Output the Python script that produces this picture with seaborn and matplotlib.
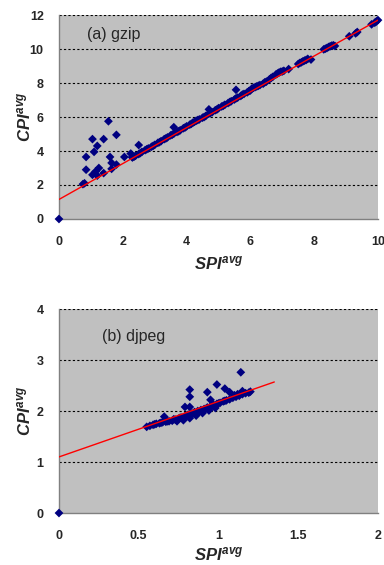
import matplotlib.pyplot as plt
import numpy as np
import pandas as pd
import seaborn as sns

# (a) gzip: SPI_avg vs CPI_avg
gzip_spi = [0.0, 0.75, 0.8, 0.85, 0.85, 1.05, 1.1, 1.05, 1.2, 1.15, 1.25, 1.2, 1.4, 1.4,
            1.55, 1.6, 1.65, 1.65, 1.8, 1.8, 2.05, 2.25, 2.3, 2.5, 3.6, 4.7, 5.55,
            2.3, 2.4, 2.5, 2.6, 2.7, 2.8, 2.9, 3.0, 3.1, 3.2, 3.3, 3.4, 3.5, 3.6, 3.7,
            3.8, 3.9, 4.0, 4.1, 4.2, 4.3, 4.4, 4.5, 4.6, 4.7, 4.8, 4.9, 5.0, 5.1, 5.2,
            5.3, 5.4, 5.5, 5.6, 5.7, 5.8, 5.9, 6.0, 6.1, 6.2, 6.3, 6.4, 6.5, 6.6, 6.7,
            6.8, 6.9, 7.0, 7.2, 7.5, 7.6, 7.7, 7.8, 7.9, 8.3, 8.4, 8.5, 8.6, 8.65,
            2.35, 2.55, 2.75, 2.95, 3.15, 3.35, 3.55, 3.75, 3.95, 4.15, 4.25, 4.35,
            4.55, 4.75, 4.95, 5.15, 5.35, 5.55, 5.75, 5.95, 6.05, 6.15, 6.25, 6.45,
            6.65, 6.85, 6.95, 7.05, 7.55, 7.65, 7.75, 8.35, 8.45, 8.55,
            9.1, 9.3, 9.35, 9.8, 9.9, 9.95, 10.0]
gzip_cpi = [0.0, 2.05, 2.1, 3.65, 2.9, 4.7, 3.95, 2.6, 4.3, 2.8, 3.0, 2.55, 4.7, 2.7,
            5.75, 3.65, 3.3, 2.95, 4.95, 3.2, 3.65, 3.85, 3.65, 4.35, 5.4, 6.45, 7.6,
            3.62, 3.72, 3.82, 3.95, 4.05, 4.15, 4.25, 4.36, 4.48, 4.58, 4.7, 4.8, 4.92,
            5.02, 5.12, 5.22, 5.34, 5.45, 5.55, 5.67, 5.78, 5.86, 5.96, 6.06, 6.2, 6.28,
            6.4, 6.52, 6.62, 6.72, 6.82, 6.93, 7.03, 7.14, 7.24, 7.36, 7.45, 7.56, 7.72,
            7.8, 7.88, 7.96, 8.08, 8.22, 8.36, 8.5, 8.62, 8.68, 8.82, 9.12, 9.22, 9.32,
            9.42, 9.38, 9.98, 10.06, 10.16, 10.22, 10.18,
            3.66, 3.88, 4.1, 4.3, 4.52, 4.74, 4.96, 5.16, 5.38, 5.6, 5.72, 5.82,
            6.0, 6.24, 6.44, 6.66, 6.88, 7.1, 7.32, 7.52, 7.68, 7.76, 7.84, 8.04,
            8.3, 8.56, 8.66, 8.72, 9.18, 9.28, 9.36, 10.02, 10.12, 10.2,
            10.75, 10.92, 11.0, 11.45, 11.55, 11.62, 11.7]
gzip_fit_x = [0.0, 10.0]
gzip_fit_y = [1.15, 11.7]

# (b) djpeg
djpeg_spi = [0.0, 0.55, 0.57, 0.59, 0.61, 0.63, 0.65, 0.67, 0.69, 0.71, 0.73, 0.75,
             0.77, 0.79, 0.81, 0.83, 0.85, 0.87, 0.89, 0.91, 0.93, 0.95, 0.97, 0.99,
             1.01, 1.03, 1.05, 1.07, 1.09, 1.11, 1.13, 1.15, 1.17, 1.19, 1.2,
             0.6, 0.64, 0.68, 0.72, 0.76, 0.8, 0.84, 0.88, 0.92, 0.96, 1.0, 1.04,
             0.74, 0.78, 0.82, 0.86, 0.9, 0.94, 0.98,
             0.82, 0.82, 0.93, 0.99, 1.04, 1.07, 1.14, 1.15, 0.79, 0.82, 0.66, 0.95,
             1.1, 1.12]
djpeg_cpi = [0.0, 1.69, 1.71, 1.73, 1.75, 1.76, 1.78, 1.79, 1.8, 1.81, 1.83, 1.85,
             1.87, 1.9, 1.93, 1.95, 1.98, 2.0, 2.02, 2.04, 2.07, 2.09, 2.12, 2.14,
             2.16, 2.19, 2.21, 2.23, 2.26, 2.28, 2.3, 2.33, 2.35, 2.36, 2.38,
             1.74, 1.77, 1.8, 1.84, 1.87, 1.91, 1.95, 1.99, 2.04, 2.1, 2.15, 2.2,
             1.8, 1.82, 1.86, 1.91, 1.96, 2.01, 2.06,
             2.42, 2.28, 2.37, 2.52, 2.44, 2.37, 2.76, 2.39, 2.08, 2.08, 1.89, 2.22,
             2.31, 2.33]
djpeg_fit_x = [0.0, 1.35]
djpeg_fit_y = [1.1, 2.57]

panels = [
    ('(a) gzip', (0.088, 0.905), -0.175, gzip_spi, gzip_cpi, gzip_fit_x, gzip_fit_y,
     (0, 10), [0, 2, 4, 6, 8, 10], (0, 12), [0, 2, 4, 6, 8, 10, 12]),
    ('(b) djpeg', (0.135, 0.863), -0.16, djpeg_spi, djpeg_cpi, djpeg_fit_x, djpeg_fit_y,
     (0, 2), [0, 0.5, 1, 1.5, 2], (0, 4), [0, 1, 2, 3, 4]),
]

sns.set_style('white', {'axes.facecolor': '#C0C0C0'})
plt.rcParams['font.family'] = ['Liberation Sans', 'DejaVu Sans']
plt.rcParams['mathtext.fontset'] = 'custom'
plt.rcParams['mathtext.it'] = 'Liberation Sans:italic:bold'
plt.rcParams['mathtext.rm'] = 'Liberation Sans:bold'

fig = plt.figure(figsize=(3.84, 5.65), dpi=100)
axes = [fig.add_axes([0.1536, 0.6124, 0.8307, 0.361]),
        fig.add_axes([0.1536, 0.092, 0.8307, 0.361])]

for ax, (title, tpos, xlab_y, xs, ys, fx, fy, xlim, xticks, ylim, yticks) in zip(axes, panels):
    df = pd.DataFrame({'spi': xs, 'cpi': ys})
    sns.scatterplot(data=df, x='spi', y='cpi', ax=ax, marker='D', color='#000080',
                    edgecolor='none', s=20, clip_on=False, zorder=3)
    sns.lineplot(x=fx, y=fy, ax=ax, color='red', linewidth=1.0, zorder=4)
    ax.set_xlim(*xlim)
    ax.set_ylim(*ylim)
    ax.set_xticks(xticks)
    ax.set_yticks(yticks)
    ax.set_xticklabels([f'{t:g}' for t in xticks], fontweight='bold', fontsize=9)
    ax.set_yticklabels([f'{t:g}' for t in yticks], fontweight='bold', fontsize=9)
    for y in yticks[1:]:
        ax.axhline(y, color='black', linestyle=(0, (2, 2)), linewidth=0.8, zorder=1)
    for side in ['top', 'right']:
        ax.spines[side].set_visible(False)
    for side in ['left', 'bottom']:
        ax.spines[side].set_color('#808080')
        ax.spines[side].set_linewidth(1.0)
    ax.tick_params(axis='x', direction='out', length=3, width=0.8, color='#808080', pad=9)
    ax.tick_params(axis='y', direction='out', length=3, width=0.8, color='#808080', pad=8)
    ax.set_xlabel(r'$SPI^{avg}$', fontsize=12)
    ax.set_ylabel(r'$CPI^{avg}$', fontsize=12)
    ax.xaxis.set_label_coords(0.5, xlab_y)
    ax.yaxis.set_label_coords(-0.082, 0.5)
    ax.text(tpos[0], tpos[1], title, transform=ax.transAxes, fontsize=11.5, va='center')

plt.savefig('out.png', dpi=100)
plt.close()
